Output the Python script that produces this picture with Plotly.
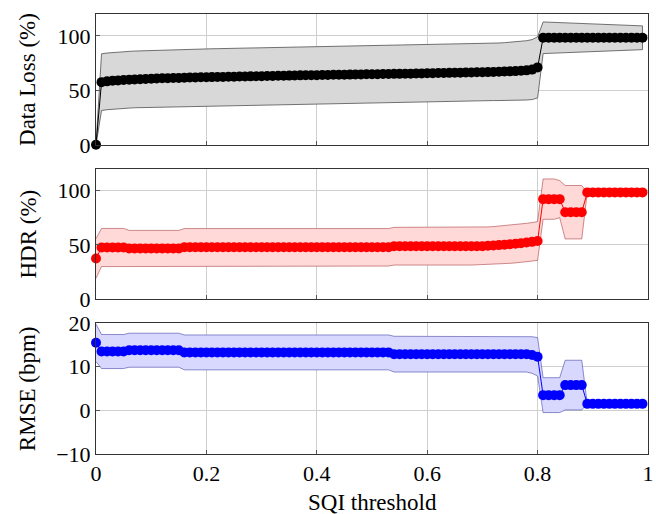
import plotly.graph_objects as go
from plotly.subplots import make_subplots

# ---------------- data ----------------
sqi_threshold = [
    0.00, 0.01, 0.02, 0.03, 0.04, 0.05, 0.06, 0.07, 0.08, 0.09,
    0.10, 0.11, 0.12, 0.13, 0.14, 0.15, 0.16, 0.17, 0.18, 0.19,
    0.20, 0.21, 0.22, 0.23, 0.24, 0.25, 0.26, 0.27, 0.28, 0.29,
    0.30, 0.31, 0.32, 0.33, 0.34, 0.35, 0.36, 0.37, 0.38, 0.39,
    0.40, 0.41, 0.42, 0.43, 0.44, 0.45, 0.46, 0.47, 0.48, 0.49,
    0.50, 0.51, 0.52, 0.53, 0.54, 0.55, 0.56, 0.57, 0.58, 0.59,
    0.60, 0.61, 0.62, 0.63, 0.64, 0.65, 0.66, 0.67, 0.68, 0.69,
    0.70, 0.71, 0.72, 0.73, 0.74, 0.75, 0.76, 0.77, 0.78, 0.79,
    0.80, 0.81, 0.82, 0.83, 0.84, 0.85, 0.86, 0.87, 0.88, 0.89,
    0.90, 0.91, 0.92, 0.93, 0.94, 0.95, 0.96, 0.97, 0.98, 0.99,
]

data_loss_mean = [
    0.0, 57.5, 58.2, 58.7, 59.1, 59.4, 59.7, 60.0, 60.2, 60.4,
    60.6, 60.8, 61.0, 61.1, 61.3, 61.4, 61.5, 61.7, 61.8, 61.9,
    62.0, 62.1, 62.2, 62.3, 62.4, 62.5, 62.6, 62.7, 62.8, 62.9,
    63.0, 63.1, 63.2, 63.3, 63.4, 63.5, 63.6, 63.7, 63.8, 63.8,
    63.9, 64.0, 64.1, 64.2, 64.3, 64.3, 64.4, 64.5, 64.6, 64.7,
    64.7, 64.8, 64.9, 65.0, 65.1, 65.1, 65.2, 65.3, 65.4, 65.5,
    65.6, 65.7, 65.8, 65.9, 66.0, 66.1, 66.2, 66.3, 66.4, 66.5,
    66.6, 66.7, 66.9, 67.0, 67.2, 67.4, 67.6, 67.9, 68.3, 69.0,
    71.0, 98.2, 98.2, 98.2, 98.2, 98.2, 98.2, 98.2, 98.2, 98.2,
    98.2, 98.2, 98.2, 98.2, 98.2, 98.2, 98.2, 98.2, 98.2, 98.2,
]
data_loss_std = [
    0.0, 26.0, 26.0, 26.0, 26.0, 26.0, 26.0, 26.0, 26.0, 26.0,
    26.0, 26.0, 26.0, 26.0, 26.0, 26.0, 26.0, 26.0, 26.0, 26.0,
    26.0, 26.0, 26.0, 26.0, 26.0, 26.0, 26.0, 26.0, 26.0, 26.0,
    26.0, 26.0, 26.0, 26.0, 26.0, 26.0, 26.0, 26.0, 26.0, 26.0,
    26.0, 26.0, 26.0, 26.0, 26.0, 26.0, 26.0, 26.0, 26.0, 26.0,
    26.0, 26.0, 26.0, 26.0, 26.0, 26.0, 26.0, 26.0, 26.0, 26.0,
    26.0, 26.0, 26.0, 26.0, 26.0, 26.0, 26.0, 26.0, 26.0, 26.0,
    26.0, 26.2, 26.3, 26.4, 26.5, 26.6, 26.8, 27.0, 27.2, 27.5,
    28.0, 14.5, 14.3, 14.1, 13.9, 13.7, 13.5, 13.3, 13.1, 12.9,
    12.7, 12.5, 12.3, 12.1, 11.9, 11.7, 11.5, 11.3, 11.1, 10.9,
]

hdr_mean = [
    37.5, 47.6, 47.6, 47.6, 47.6, 47.6, 46.8, 46.8, 46.8, 46.8,
    46.8, 46.8, 46.8, 46.8, 46.8, 46.8, 47.8, 47.8, 47.8, 47.8,
    47.8, 47.8, 47.8, 47.8, 47.8, 47.8, 47.8, 47.8, 47.8, 47.8,
    47.8, 47.8, 47.8, 47.8, 47.8, 47.8, 47.8, 47.8, 47.8, 47.8,
    47.8, 47.8, 47.8, 47.8, 47.8, 47.8, 47.8, 47.8, 47.8, 47.8,
    47.8, 47.8, 47.8, 47.8, 48.8, 48.8, 48.8, 48.8, 48.8, 48.8,
    48.8, 48.8, 48.8, 48.8, 48.8, 48.8, 48.8, 48.8, 48.8, 48.8,
    48.8, 49.2, 49.5, 49.8, 50.2, 50.6, 51.0, 51.6, 52.2, 52.8,
    53.6, 92.0, 92.0, 92.0, 92.0, 80.0, 80.0, 80.0, 80.0, 98.2,
    98.2, 98.2, 98.2, 98.2, 98.2, 98.2, 98.2, 98.2, 98.2, 98.2,
]
hdr_std = [
    18.2, 17.5, 17.5, 17.5, 17.5, 17.5, 16.5, 16.5, 16.5, 16.5,
    16.5, 16.5, 16.5, 16.5, 16.5, 16.5, 17.2, 17.2, 17.2, 17.2,
    17.2, 17.2, 17.2, 17.2, 17.2, 17.2, 17.2, 17.2, 17.2, 17.2,
    17.2, 17.2, 17.2, 17.2, 17.2, 17.2, 17.2, 17.2, 17.2, 17.2,
    17.2, 17.2, 17.2, 17.2, 17.2, 17.2, 17.2, 17.2, 17.2, 17.2,
    17.2, 17.2, 17.2, 17.2, 17.3, 17.3, 17.3, 17.3, 17.3, 17.3,
    17.3, 17.3, 17.3, 17.3, 17.3, 17.3, 17.3, 17.3, 17.3, 17.3,
    17.3, 17.3, 17.3, 17.4, 17.4, 17.5, 17.5, 17.6, 17.6, 17.7,
    17.8, 18.5, 18.5, 18.5, 17.0, 24.5, 24.5, 24.5, 24.5, 0.0,
    0.0, 0.0, 0.0, 0.0, 0.0, 0.0, 0.0, 0.0, 0.0, 0.0,
]

rmse_mean = [
    15.5, 13.5, 13.5, 13.5, 13.5, 13.5, 13.8, 13.8, 13.8, 13.8,
    13.8, 13.8, 13.8, 13.8, 13.8, 13.8, 13.3, 13.3, 13.3, 13.3,
    13.3, 13.3, 13.3, 13.3, 13.3, 13.3, 13.3, 13.3, 13.3, 13.3,
    13.3, 13.3, 13.3, 13.3, 13.3, 13.3, 13.3, 13.3, 13.3, 13.3,
    13.3, 13.3, 13.3, 13.3, 13.3, 13.3, 13.3, 13.3, 13.3, 13.3,
    13.3, 13.3, 13.3, 13.3, 12.9, 12.9, 12.9, 12.9, 12.9, 12.9,
    12.9, 12.9, 12.9, 12.9, 12.9, 12.9, 12.9, 12.9, 12.9, 12.9,
    12.9, 12.9, 12.9, 12.9, 12.9, 12.9, 12.9, 12.9, 12.9, 12.7,
    12.3, 3.5, 3.5, 3.5, 3.5, 5.8, 5.8, 5.8, 5.8, 1.5,
    1.5, 1.5, 1.5, 1.5, 1.5, 1.5, 1.5, 1.5, 1.5, 1.5,
]
rmse_std = [
    4.3, 3.9, 3.9, 3.9, 3.9, 3.9, 3.9, 3.9, 3.9, 3.9,
    3.9, 3.9, 3.9, 3.9, 3.9, 3.9, 4.0, 4.0, 4.0, 4.0,
    4.0, 4.0, 4.0, 4.0, 4.0, 4.0, 4.0, 4.0, 4.0, 4.0,
    4.0, 4.0, 4.0, 4.0, 4.0, 4.0, 4.0, 4.0, 4.0, 4.0,
    4.0, 4.0, 4.0, 4.0, 4.0, 4.0, 4.0, 4.0, 4.0, 4.0,
    4.0, 4.0, 4.0, 4.0, 4.1, 4.1, 4.1, 4.1, 4.1, 4.1,
    4.1, 4.1, 4.1, 4.1, 4.1, 4.1, 4.1, 4.1, 4.1, 4.1,
    4.1, 4.1, 4.1, 4.1, 4.1, 4.1, 4.1, 4.1, 4.1, 4.2,
    4.4, 4.0, 4.0, 4.0, 4.0, 5.7, 5.7, 5.7, 5.7, 0.0,
    0.0, 0.0, 0.0, 0.0, 0.0, 0.0, 0.0, 0.0, 0.0, 0.0,
]

x_tickvals = [0, 0.2, 0.4, 0.6, 0.8, 1]
x_ticktext = ["0", "0.2", "0.4", "0.6", "0.8", "1"]
y_titles = ["Data Loss (%)", "HDR (%)", "RMSE (bpm)"]
x_title = "SQI threshold"

# ---------------- figure ----------------
FONT = "Liberation Serif"
fig = make_subplots(rows=3, cols=1)

panels = [
    (data_loss_mean, data_loss_std, "#000000", "rgb(216,216,216)", "rgba(90,90,90,0.85)"),
    (hdr_mean, hdr_std, "#ff0000", "rgb(255,216,216)", "rgba(170,70,70,0.6)"),
    (rmse_mean, rmse_std, "#0000ff", "rgb(216,216,255)", "rgba(70,70,170,0.6)"),
]

for i, (mean, std, col, fill, edge) in enumerate(panels, start=1):
    upper = [m + s for m, s in zip(mean, std)]
    lower = [m - s for m, s in zip(mean, std)]
    fig.add_trace(go.Scatter(
        x=sqi_threshold + sqi_threshold[::-1],
        y=upper + lower[::-1],
        mode="lines", fill="toself", fillcolor=fill,
        line=dict(color=edge, width=1),
        hoverinfo="skip", showlegend=False,
    ), row=i, col=1)
    fig.add_trace(go.Scatter(
        x=sqi_threshold, y=mean,
        mode="lines+markers",
        line=dict(color=col, width=1),
        marker=dict(color=col, size=10),
        cliponaxis=False, showlegend=False,
    ), row=i, col=1)

axis_common = dict(
    showgrid=True, gridcolor="#cfcfcf", gridwidth=1,
    showline=True, linecolor="#333333", linewidth=1, mirror=True,
    ticks="inside", ticklen=4, tickcolor="#555555",
    tickfont=dict(family=FONT, size=22, color="black"),
    zeroline=False, ticklabeloverflow="allow",
)

domains = [[0.7027, 1.0], [0.3514, 0.6486], [0.0, 0.2973]]
yranges = [[0, 120], [0, 120], [-10, 20]]
ytickvals = [[0, 50, 100], [0, 50, 100], [-10, 0, 10, 20]]

for i in range(3):
    sfx = "" if i == 0 else str(i + 1)
    fig.layout["xaxis" + sfx].update(
        axis_common, range=[0, 1], tickvals=x_tickvals, ticktext=x_ticktext,
        domain=[0, 1], showticklabels=(i == 2),
    )
    fig.layout["yaxis" + sfx].update(
        axis_common, range=yranges[i], tickvals=ytickvals[i],
        domain=domains[i],
    )
    fig.add_annotation(
        text=y_titles[i], textangle=-90,
        xref="x" + sfx + " domain", yref="y" + sfx + " domain",
        x=-0.124, y=0.5, xanchor="center", yanchor="middle",
        showarrow=False, font=dict(family=FONT, size=23, color="black"),
    )

fig.add_annotation(
    text=x_title, xref="x3 domain", yref="paper",
    x=0.5, y=-0.11, xanchor="center", yanchor="middle",
    showarrow=False, font=dict(family=FONT, size=23, color="black"),
)

fig.update_layout(
    width=656, height=514,
    margin=dict(l=96, r=2, t=10, b=60),
    plot_bgcolor="white", paper_bgcolor="white",
    font=dict(family=FONT, size=22, color="black"),
)

fig.write_html("out.html")
